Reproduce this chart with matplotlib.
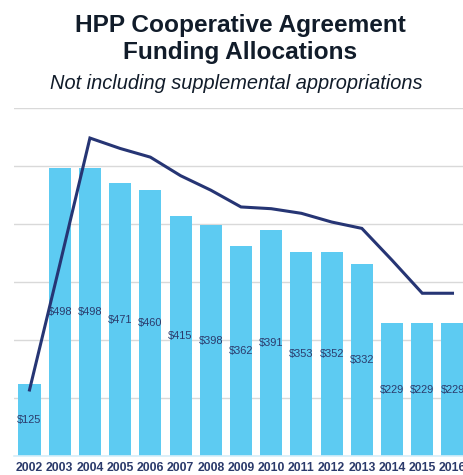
import matplotlib
matplotlib.use('Agg')
import matplotlib.pyplot as plt

years = ['2002', '2003', '2004', '2005', '2006', '2007', '2008', '2009',
         '2010', '2011', '2012', '2013', '2014', '2015', '2016']
funding = [125, 498, 498, 471, 460, 415, 398, 362, 391, 353, 352, 332, 229, 229, 229]
# trend line (same scale as the bars)
trend = [114, 330, 549, 531, 516, 484, 459, 430, 427, 419, 404, 393, 338, 281, 281]

bar_color = '#5DCBF2'
line_color = '#263574'
text_color = '#2B3A6B'

plt.rcParams['font.family'] = ['Liberation Sans', 'DejaVu Sans']

fig = plt.figure(figsize=(4.64, 4.75), dpi=100)
W, H = 464, 475
ax = fig.add_axes([14.4 / W, (H - 456) / H, (467.6 - 14.4) / W, (456 - 108.5) / H])

x = list(range(len(years)))
bars = ax.bar(x, funding, width=0.73, color=bar_color, zorder=2)
ax.plot(x, trend, color=line_color, linewidth=2.2, zorder=3, solid_joinstyle='miter')

for xi, v in zip(x, funding):
    ax.text(xi, v / 2, '${}'.format(v), ha='center', va='center',
            fontsize=7.9, color=text_color, zorder=4)

ax.set_xlim(-0.5, len(years) - 0.5)
ax.set_ylim(0, 600)
ax.set_yticks([0, 100, 200, 300, 400, 500, 600])
ax.set_yticklabels([])
ax.tick_params(axis='y', length=0)
ax.tick_params(axis='x', length=0, pad=4.5)
ax.set_xticks(x)
ax.set_xticklabels(years, fontsize=8.8, fontweight='bold', color=text_color)
ax.grid(axis='y', color='#D9D9D9', linewidth=1, zorder=0)
for s in ['top', 'right', 'left']:
    ax.spines[s].set_visible(False)
ax.spines['bottom'].set_color('#D6EEF9')
ax.spines['bottom'].set_linewidth(1.2)

fig.text(240.5 / W, (H - 32) / H, 'HPP Cooperative Agreement', ha='center',
         va='baseline', fontsize=17.6, fontweight='bold', color='#111C2A')
fig.text(240.5 / W, (H - 58.5) / H, 'Funding Allocations', ha='center',
         va='baseline', fontsize=17.6, fontweight='bold', color='#111C2A')
fig.text(236.5 / W, (H - 89) / H, 'Not including supplemental appropriations',
         ha='center', va='baseline', fontsize=14.4, style='italic', color='#111C2A')

fig.savefig('out.png', dpi=100)
